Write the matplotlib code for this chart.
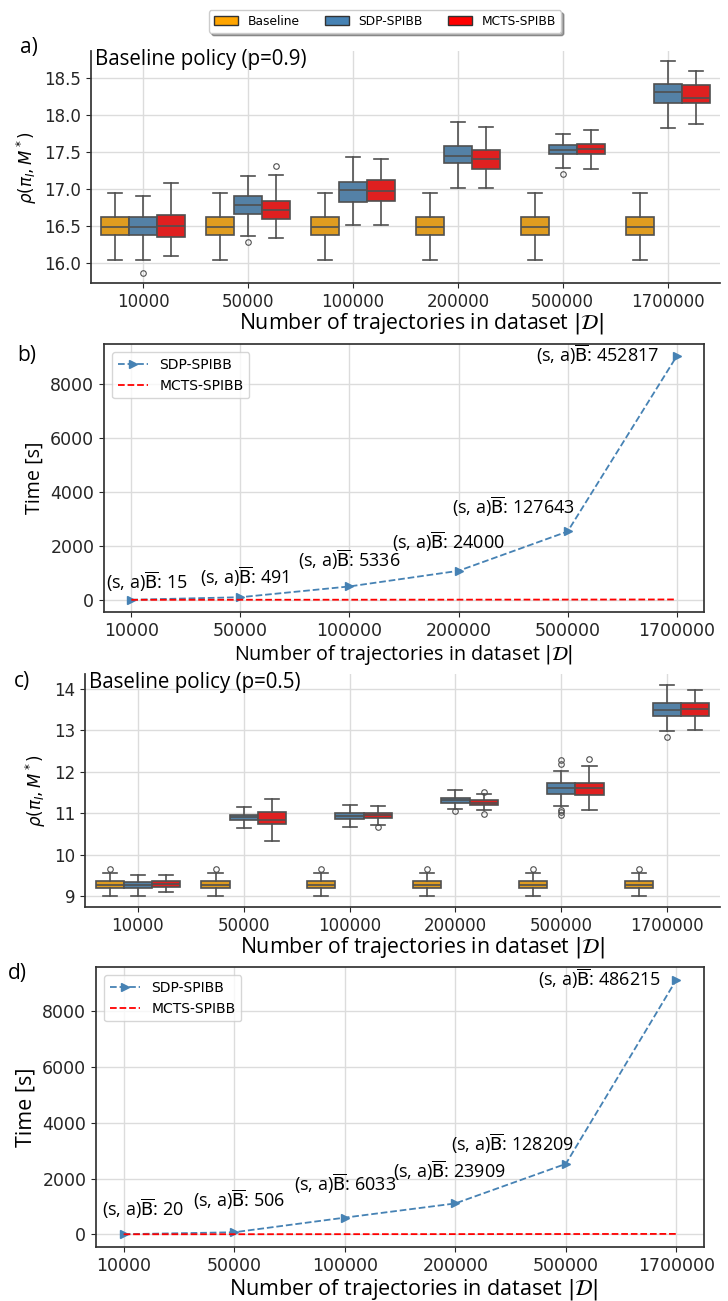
import matplotlib.pyplot as plt
from matplotlib.patches import Patch
from matplotlib.ticker import FormatStrFormatter, MultipleLocator

sizes = ["10000", "50000", "100000", "200000", "500000", "1700000"]
methods = ["Baseline", "SDP-SPIBB", "MCTS-SPIBB"]

# box statistics per dataset size: (whislo, q1, med, q3, whishi)
baseline_p09 = [(16.04, 16.38, 16.49, 16.62, 16.95)] * 6
sdp_p09 = [(16.04, 16.38, 16.49, 16.62, 16.91), (16.36, 16.66, 16.79, 16.91, 17.18),
           (16.51, 16.83, 16.99, 17.10, 17.44), (17.01, 17.35, 17.45, 17.59, 17.91),
           (17.29, 17.47, 17.53, 17.60, 17.75), (17.83, 18.17, 18.31, 18.42, 18.73)]
mcts_p09 = [(16.09, 16.35, 16.50, 16.65, 17.08), (16.34, 16.59, 16.72, 16.84, 17.19),
            (16.52, 16.84, 16.97, 17.13, 17.41), (17.01, 17.27, 17.41, 17.53, 17.84),
            (17.27, 17.47, 17.54, 17.61, 17.80), (17.88, 18.16, 18.24, 18.41, 18.60)]
baseline_p09_out = [[]] * 6
sdp_p09_out = [[15.87], [16.29], [], [], [17.20], []]
mcts_p09_out = [[], [17.32], [], [], [], []]

baseline_p05 = [(9.00, 9.20, 9.28, 9.37, 9.55)] * 6
sdp_p05 = [(9.00, 9.21, 9.28, 9.35, 9.51), (10.64, 10.83, 10.91, 10.97, 11.16),
           (10.67, 10.87, 10.93, 11.01, 11.20), (11.10, 11.25, 11.31, 11.38, 11.55),
           (11.18, 11.47, 11.61, 11.74, 12.01), (12.98, 13.35, 13.49, 13.65, 14.10)]
mcts_p05 = [(9.10, 9.22, 9.30, 9.37, 9.51), (10.32, 10.75, 10.85, 11.04, 11.34),
            (10.72, 10.88, 10.95, 11.01, 11.17), (11.09, 11.19, 11.26, 11.32, 11.47),
            (11.09, 11.44, 11.61, 11.72, 12.13), (13.00, 13.34, 13.51, 13.66, 13.98)]
baseline_p05_out = [[9.66]] * 6
sdp_p05_out = [[], [], [], [11.05], [12.29, 12.19, 11.09, 11.03, 10.97], [12.85]]
mcts_p05_out = [[], [], [10.68], [11.52, 10.99], [12.31], []]

# runtime in seconds and number of unknown state-action pairs
sdp_time_p09 = [5, 100, 500, 1080, 2540, 9050]
mcts_time_p09 = [3, 5, 7, 9, 12, 16]
unknown_p09 = [15, 491, 5336, 24000, 127643, 452817]
sdp_time_p05 = [5, 75, 600, 1110, 2530, 9140]
mcts_time_p05 = [3, 5, 7, 9, 12, 16]
unknown_p05 = [20, 506, 6033, 23909, 128209, 486215]

box_colors = ["#df9c20", "#5481a6", "#df2020"]
legend_colors = ["#ffa500", "#4682b4", "#ff0000"]
edge = "#505050"
label_font = "Open Sans"

fig = plt.figure(figsize=(7.28, 13.01), dpi=100)
W, H = 728, 1301


def axes_px(left, top, right, bottom):
    return fig.add_axes([left / W, 1 - bottom / H, (right - left) / W, (bottom - top) / H])


def style_ticks(ax, tick_size, label_size, label_x, labelpad):
    ax.tick_params(labelsize=tick_size, colors="#262626", length=3.5)
    for lbl in ax.get_xticklabels() + ax.get_yticklabels():
        lbl.set_family("DejaVu Sans")
    ax.grid(True, color="#dcdcdc", linewidth=1.0)
    ax.set_axisbelow(True)
    ax.set_xlabel(r"Number of trajectories in dataset $|\mathcal{D}|$",
                  fontsize=label_size, family=label_font, labelpad=labelpad)
    ax.xaxis.label.set_x(label_x)


def draw_boxes(ax, groups, outliers, ylim, step, fmt, title, label_size, label_x):
    width = 0.8 / 3
    for k, (stats, outs) in enumerate(zip(groups, outliers)):
        rows = []
        for (lo, q1, med, q3, hi), fl in zip(stats, outs):
            rows.append(dict(whislo=lo, q1=q1, med=med, q3=q3, whishi=hi, fliers=fl))
        pos = [i - 0.8 / 3 + k * width for i in range(len(sizes))]
        ax.bxp(rows, positions=pos, widths=width, patch_artist=True,
               boxprops=dict(facecolor=box_colors[k], edgecolor=edge, linewidth=1.2),
               medianprops=dict(color=edge, linewidth=1.2),
               whiskerprops=dict(color=edge, linewidth=1.2),
               capprops=dict(color=edge, linewidth=1.2),
               flierprops=dict(marker="o", markersize=4, markerfacecolor="none",
                               markeredgecolor=edge, markeredgewidth=0.8))
    ax.set_xlim(-0.5, len(sizes) - 0.5)
    ax.set_ylim(*ylim)
    ax.yaxis.set_major_locator(MultipleLocator(step))
    ax.yaxis.set_major_formatter(FormatStrFormatter(fmt))
    ax.set_xticks(range(len(sizes)))
    ax.set_xticklabels(sizes)
    for side in ("top", "right"):
        ax.spines[side].set_visible(False)
    for side in ("left", "bottom"):
        ax.spines[side].set_color("#333333")
        ax.spines[side].set_linewidth(1.25)
    style_ticks(ax, 12, label_size, label_x, 0)
    ax.set_ylabel(r"$\rho(\pi_I, M^*)$", fontsize=12, labelpad=4)
    ax.text(0.006, 1.01, title, transform=ax.transAxes, ha="left", va="top",
            fontsize=14.8, family=label_font)


def draw_times(ax, sdp, mcts, unknown, offsets, label_size, label_x):
    x = list(range(len(sizes)))
    ax.plot(x, sdp, "--", marker=">", color="#4682b4", markersize=6, linewidth=1.3,
            label="SDP-SPIBB")
    ax.plot(x, mcts, "--", color="#ff0000", linewidth=1.3, label="MCTS-SPIBB")
    for xi, yi, n, (dx, dy) in zip(x, sdp, unknown, offsets):
        ax.annotate(r"(s, a)$\overline{\mathrm{B}}$: " + str(n), (xi, yi),
                    xytext=(dx, dy), textcoords="offset pixels", ha="center",
                    va="baseline", fontsize=13, family=label_font)
    ax.set_xticks(x)
    ax.set_xticklabels(sizes)
    for sp in ax.spines.values():
        sp.set_color("#333333")
        sp.set_linewidth(1.25)
    style_ticks(ax, 12.5, label_size, label_x, 2)
    ax.set_ylabel("Time [s]", fontsize=label_size, family=label_font, labelpad=4)
    ax.legend(loc="upper left", fontsize=10, handlelength=2.2, borderaxespad=0.6,
              edgecolor="#cccccc", fancybox=True)


ax_a = axes_px(91, 51, 720, 283)
draw_boxes(ax_a, [baseline_p09, sdp_p09, mcts_p09],
           [baseline_p09_out, sdp_p09_out, mcts_p09_out], (15.73, 18.87), 0.5, "%.1f",
           "Baseline policy (p=0.9)", 15.3, 0.526)

ax_b = axes_px(104, 344, 704, 612)
draw_times(ax_b, sdp_time_p09, mcts_time_p09, unknown_p09,
           [(16, 11), (4, 13), (0, 19), (-10, 22), (-54, 17), (-79, -6)], 14.2, 0.5)

ax_c = axes_px(85, 674, 720, 907)
draw_boxes(ax_c, [baseline_p05, sdp_p05, mcts_p05],
           [baseline_p05_out, sdp_p05_out, mcts_p05_out], (8.74, 14.36), 1, "%d",
           "Baseline policy (p=0.5)", 15.3, 0.531)

ax_d = axes_px(96, 967, 704, 1247)
draw_times(ax_d, sdp_time_p05, mcts_time_p05, unknown_p05,
           [(19, 18), (5, 25), (0, 27), (-6, 25), (-53, 13), (-77, -6)], 15.5, 0.523)

for letter, (px, py) in zip("abcd", [(20, 47), (17, 355), (14, 682), (8, 973)]):
    fig.text(px / W, 1 - py / H, letter + ")", fontsize=15, family=label_font,
             ha="left", va="center")

handles = [Patch(facecolor=c, edgecolor="#333333", label=m)
           for c, m in zip(legend_colors, methods)]
fig.legend(handles=handles, loc="upper center", bbox_to_anchor=(385 / W, 1 - 4 / H),
           ncol=3, fontsize=8.8, frameon=True, shadow=True, edgecolor="#cccccc")

fig.savefig("out.png", dpi=100)
